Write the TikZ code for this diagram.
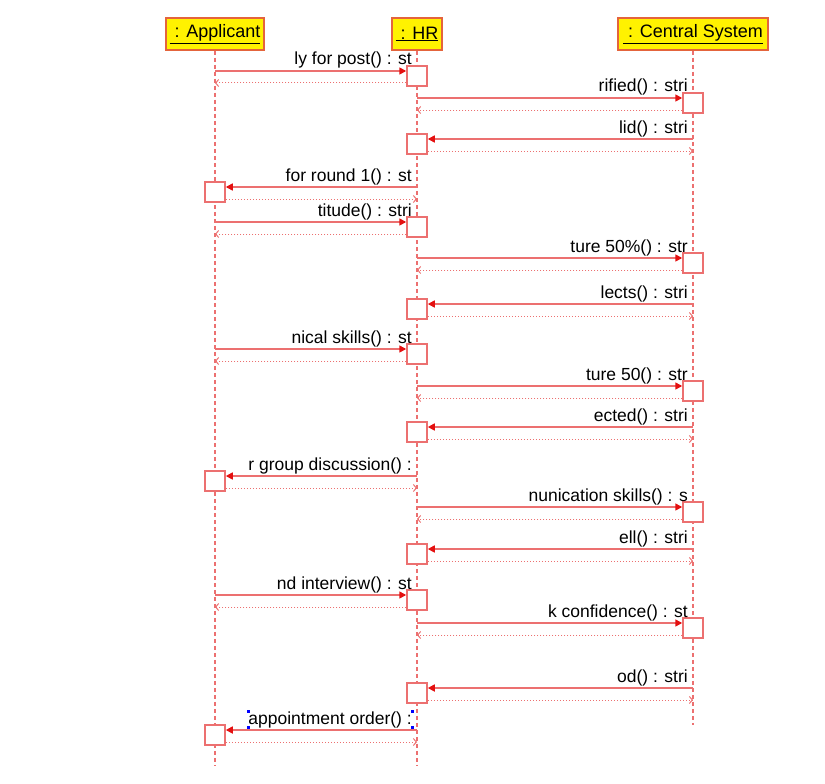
\documentclass[tikz,border=0pt]{standalone}
\usepackage{fontspec}
\setmainfont{Liberation Sans}
\usetikzlibrary{arrows.meta}
\definecolor{lifered}{RGB}{236,112,112}
\definecolor{tipred}{RGB}{228,16,16}
\definecolor{headedge}{RGB}{228,100,60}
\tikzset{
  head/.style={draw=headedge, fill=yellow, line width=1.5, minimum height=32, inner sep=0, font=\fontsize{18}{21}\selectfont},
  life/.style={lifered, line width=2.4, dash pattern=on 4 off 3},
  actbox/.style={draw=lifered, fill=white, line width=1.5, minimum size=20, inner sep=0},
  call/.style={lifered, line width=1.6, -{Triangle[length=7,width=7,color=tipred]}},
  reply/.style={lifered, line width=1, dash pattern=on 1 off 2, -{Straight Barb[length=3,width=7]}},
  msg/.style={anchor=base east, inner sep=0, font=\fontsize{17.5}{20}\selectfont},
}

\begin{document}
\begin{tikzpicture}[x=1pt,y=-1pt]
    \useasboundingbox (0,0) rectangle (825,784);
    \node[head, minimum width=98] (app) at (215,34) {\underline{\ : Applicant}};
    \node[head, minimum width=50] (hr) at (417,34) {\underline{\ : HR}};
    \node[head, minimum width=150] (cs) at (693,34) {\underline{\ : Central System}};
    \coordinate (append) at (215,766);
    \coordinate (hrend) at (417,766);
    \coordinate (csend) at (693,725);
    \draw[life] (app.south) -- (append);
    \draw[life] (hr.south) -- (hrend);
    \draw[life] (cs.south) -- (csend);
    % y / caller / callee / side of box / lifeline the label ends at / label
    \foreach \y/\src/\dst/\side/\lab/\txt [count=\i] in {
        76/app/hr/west/hr/{ly for post() : st},
        103/hr/cs/west/cs/{rified() : stri},
        144/cs/hr/east/cs/{lid() : stri},
        192/hr/app/east/hr/{for round 1() : st},
        227/app/hr/west/hr/{titude() : stri},
        263/hr/cs/west/cs/{ture 50\%() : str},
        309/cs/hr/east/cs/{lects() : stri},
        354/app/hr/west/hr/{nical skills() : st},
        391/hr/cs/west/cs/{ture 50() : str},
        432/cs/hr/east/cs/{ected() : stri},
        481/hr/app/east/hr/{r group discussion() :},
        512/hr/cs/west/cs/{nunication skills() : s},
        554/cs/hr/east/cs/{ell() : stri},
        600/app/hr/west/hr/{nd interview() : st},
        628/hr/cs/west/cs/{k confidence() : st},
        693/cs/hr/east/cs/{od() : stri},
        735/hr/app/east/hr/{appointment order() :}} {
        \coordinate (m\i) at (0,\y);
        \node[actbox] (b\i) at (\dst.south |- m\i) {};
        \coordinate (in\i) at ([yshift=5]b\i.\side);
        \coordinate (out\i) at ([yshift=-7]b\i.\side);
        \draw[call] (\src.south |- in\i) -- (in\i);
        \draw[reply] (out\i) -- (\src.south |- out\i);
        \node[msg] (t\i) at ([shift={(-5,-6)}]\lab.south |- in\i) {\txt};
    }
    \foreach \c in {north west, south west, north east, south east}
        \fill[blue] (t17.\c) +(-1.5,-1.5) rectangle +(1.5,1.5);
\end{tikzpicture}
\end{document}
